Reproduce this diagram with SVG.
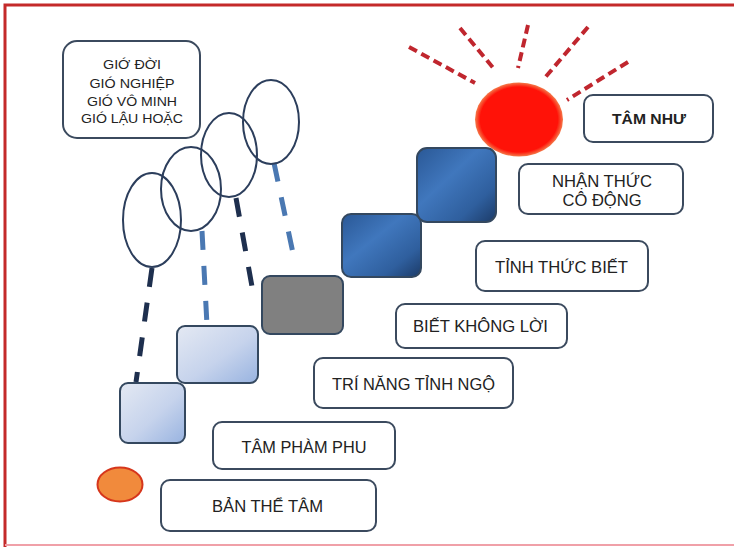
<svg xmlns="http://www.w3.org/2000/svg" width="734" height="547" viewBox="0 0 734 547">
  <defs>
    <linearGradient id="gLight" x1="0" y1="0" x2="1" y2="1">
      <stop offset="0" stop-color="#e4e9f3"/>
      <stop offset="0.55" stop-color="#c6d3ec"/>
      <stop offset="1" stop-color="#98b3e0"/>
    </linearGradient>
    <linearGradient id="gBlue" x1="0" y1="0" x2="1" y2="1">
      <stop offset="0" stop-color="#2a5896"/>
      <stop offset="0.4" stop-color="#4077bd"/>
      <stop offset="0.75" stop-color="#2f5f9e"/>
      <stop offset="1" stop-color="#1c3b68"/>
    </linearGradient>
    <radialGradient id="gSun" cx="0.5" cy="0.5" r="0.5">
      <stop offset="0.88" stop-color="#ff1208"/>
      <stop offset="1" stop-color="#f47a4a"/>
    </radialGradient>
    <style>
      .frame { fill: none; stroke: #c42a2a; stroke-width: 3; }
      .label { fill: #ffffff; stroke: #3b4a5e; stroke-width: 2; }
      .txt { font-family: "Liberation Sans", Arial, sans-serif; font-size: 17px; fill: #222222; text-anchor: middle; }
      .small { font-size: 13px; }
      .bold { font-weight: bold; font-size: 14px; }
      .ring { fill: none; stroke: #2c3e5c; stroke-width: 2; }
      .step { stroke: #34485f; stroke-width: 2; }
      .ray { stroke: #c0262e; stroke-width: 4; stroke-dasharray: 9 5; fill: none; }
      .dashDark { stroke: #1e2f4e; stroke-width: 5; stroke-dasharray: 19 16; fill: none; }
      .dashBlue { stroke: #4a78b2; stroke-width: 5; stroke-dasharray: 19 16; fill: none; }
    </style>
  </defs>

  <rect width="734" height="547" fill="#ffffff"/>
  <!-- outer frame: top and left edges in red, faint bottom -->
  <path class="frame" d="M5 547 V5 H734"/>
  <line x1="5" y1="545" x2="734" y2="545" stroke="#f0a0a8" stroke-width="2"/>

  <!-- connectors: dashed links from rings down to steps, sun rays -->
  <g id="connectors">
    <line class="dashDark" x1="152" y1="268" x2="136" y2="382"/>
    <line class="dashBlue" x1="202" y1="231" x2="207" y2="325"/>
    <line class="dashDark" x1="236" y1="198" x2="253" y2="292"/>
    <line class="dashBlue" x1="274" y1="163" x2="294" y2="258"/>
    <line class="ray" x1="409" y1="47" x2="475" y2="83"/>
    <line class="ray" x1="460" y1="28" x2="495" y2="70"/>
    <line class="ray" x1="528" y1="25" x2="518" y2="68"/>
    <line class="ray" x1="588" y1="27" x2="543" y2="80"/>
    <line class="ray" x1="628" y1="62" x2="567" y2="100"/>
  </g>

  <g id="wind-box">
    <rect class="label" x="63" y="41" width="137" height="97" rx="14"/>
    <text class="txt small" x="132" y="69" textLength="58" lengthAdjust="spacingAndGlyphs">GIỚ ĐỜI</text>
    <text class="txt small" x="132" y="88" textLength="85" lengthAdjust="spacingAndGlyphs">GIÓ NGHIỆP</text>
    <text class="txt small" x="132" y="106" textLength="90" lengthAdjust="spacingAndGlyphs">GIÓ VÔ MINH</text>
    <text class="txt small" x="132" y="123" textLength="102" lengthAdjust="spacingAndGlyphs">GIÓ LẬU HOẶC</text>
  </g>

  <g id="rings">
    <ellipse class="ring" cx="152" cy="220" rx="29" ry="47"/>
    <ellipse class="ring" cx="191" cy="189" rx="30" ry="42"/>
    <ellipse class="ring" cx="229" cy="155" rx="28" ry="42"/>
    <ellipse class="ring" cx="271" cy="122" rx="28" ry="42"/>
  </g>

  <g id="sun">
    <ellipse cx="519" cy="119.5" rx="44" ry="37" fill="url(#gSun)"/>
  </g>

  <g id="seed">
    <ellipse cx="120" cy="484.5" rx="22.5" ry="17" fill="#f18a3c" stroke="#d6361c" stroke-width="2"/>
  </g>

  <g id="step-1"><rect class="step" x="120" y="383" width="65" height="60" rx="8" fill="url(#gLight)"/></g>
  <g id="step-2"><rect class="step" x="177" y="326" width="81" height="57" rx="8" fill="url(#gLight)"/></g>
  <g id="step-3"><rect class="step" x="262" y="276" width="81" height="58" rx="8" fill="#808080"/></g>
  <g id="step-4"><rect class="step" x="342" y="214" width="79" height="63" rx="9" fill="url(#gBlue)"/></g>
  <g id="step-5"><rect class="step" x="417" y="148" width="79" height="74" rx="10" fill="url(#gBlue)"/></g>

  <g id="tam-nhu">
    <rect class="label" x="584" y="95" width="129" height="47" rx="9"/>
    <text class="txt bold" x="649" y="124" textLength="74" lengthAdjust="spacingAndGlyphs">TÂM NHƯ</text>
  </g>
  <g id="nhan-thuc">
    <rect class="label" x="519" y="164" width="164" height="50" rx="9"/>
    <text class="txt" x="602" y="187" textLength="100" lengthAdjust="spacingAndGlyphs">NHẬN THỨC</text>
    <text class="txt" x="602" y="206" textLength="79" lengthAdjust="spacingAndGlyphs">CÔ ĐỘNG</text>
  </g>
  <g id="tinh-thuc">
    <rect class="label" x="476" y="241" width="172" height="50" rx="9"/>
    <text class="txt" x="561.5" y="273" textLength="133" lengthAdjust="spacingAndGlyphs">TỈNH THỨC BIẾT</text>
  </g>
  <g id="biet-khong-loi">
    <rect class="label" x="396" y="304" width="171" height="44" rx="9"/>
    <text class="txt" x="480.5" y="332" textLength="135" lengthAdjust="spacingAndGlyphs">BIẾT KHÔNG LỜI</text>
  </g>
  <g id="tri-nang">
    <rect class="label" x="314" y="358" width="199" height="50" rx="9"/>
    <text class="txt" x="413.5" y="390" textLength="163" lengthAdjust="spacingAndGlyphs">TRÍ NĂNG TỈNH NGỘ</text>
  </g>
  <g id="tam-pham-phu">
    <rect class="label" x="213" y="422" width="182" height="47" rx="9"/>
    <text class="txt" x="304" y="453" textLength="125" lengthAdjust="spacingAndGlyphs">TÂM PHÀM PHU</text>
  </g>
  <g id="ban-the-tam">
    <rect class="label" x="161" y="480" width="215" height="51" rx="9"/>
    <text class="txt" x="267.5" y="512" textLength="111" lengthAdjust="spacingAndGlyphs">BẢN THỂ TÂM</text>
  </g>
</svg>
